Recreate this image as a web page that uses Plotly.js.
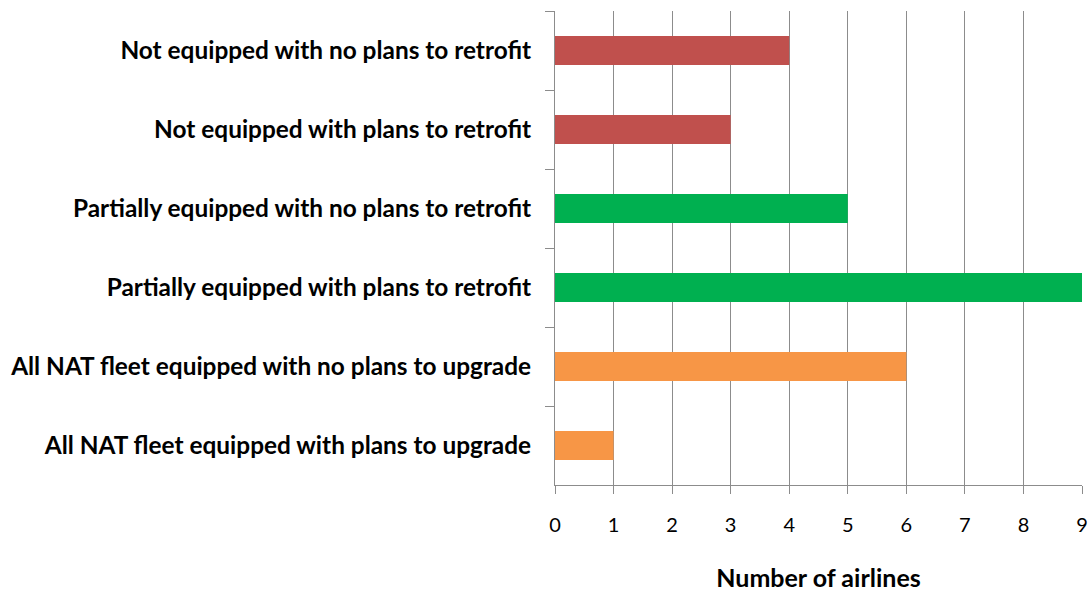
<!DOCTYPE html>
<html><head><meta charset="utf-8">
<script src="https://cdn.plot.ly/plotly-3.0.1.min.js"></script>
<style>html,body{margin:0;padding:0;background:#fff}#chart{width:1091px;height:593px}</style>
</head><body><div id="chart"></div>
<script>
const categories = [
  "Not equipped with no plans to retrofit",
  "Not equipped with plans to retrofit",
  "Partially equipped with no plans to retrofit",
  "Partially equipped with plans to retrofit",
  "All NAT fleet equipped with no plans to upgrade",
  "All NAT fleet equipped with plans to upgrade"
];
const airlines = [4, 3, 5, 9, 6, 1];
const barColors = ["#C0504D", "#C0504D", "#00B050", "#00B050", "#F79646", "#F79646"];
const xTicks = [0,1,2,3,4,5,6,7,8,9];

const fontFam = "Lato, 'Open Sans', 'Liberation Sans', sans-serif";
Plotly.newPlot("chart", [{
  type: "bar", orientation: "h",
  x: airlines, y: categories,
  marker: {color: barColors, line: {width: 0}},
  hoverinfo: "skip"
}], {
  width: 1091, height: 593,
  margin: {l: 555, r: 9, t: 11, b: 108},
  paper_bgcolor: "#fff", plot_bgcolor: "#fff",
  bargap: 0.63,
  showlegend: false,
  font: {family: fontFam, color: "#000"},
  xaxis: {
    range: [0, 9], tickvals: xTicks, ticktext: xTicks.map(String),
    showgrid: true, gridcolor: "#8c8c8c", gridwidth: 1,
    showline: true, linecolor: "#8c8c8c", linewidth: 1,
    ticks: "outside", ticklen: 8, tickcolor: "#8c8c8c",
    ticklabelstandoff: 14,
    tickfont: {size: 20, family: fontFam},
    zeroline: false,
    title: {text: "Number of airlines", font: {size: 25, weight: "bold", family: fontFam}, standoff: 34}
  },
  yaxis: {
    type: "category", autorange: "reversed",
    showline: true, linecolor: "#8c8c8c", linewidth: 1,
    ticks: "outside", tickson: "boundaries", ticklen: 9, tickcolor: "#8c8c8c",
    ticklabelstandoff: 18,
    showgrid: false, zeroline: false,
    tickfont: {size: 24.4, family: fontFam, weight: "bold"}
  }
}, {displayModeBar: false, staticPlot: true});
</script></body></html>
